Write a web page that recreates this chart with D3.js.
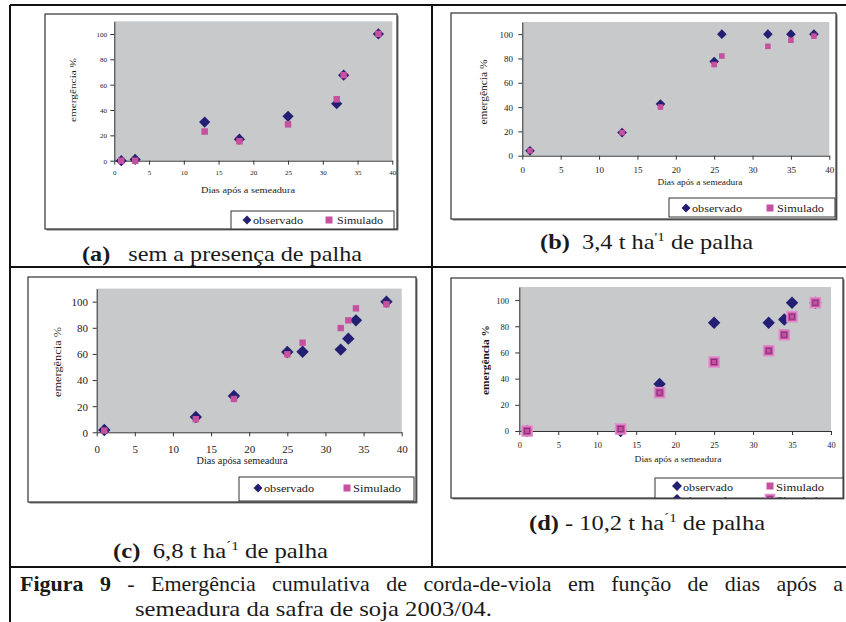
<!DOCTYPE html>
<html><head><meta charset="utf-8">
<script src="https://cdn.jsdelivr.net/npm/d3@7/dist/d3.min.js"></script>
<style>
html,body{margin:0;padding:0;background:#fff;}
svg{display:block;font-family:"Liberation Serif","Times New Roman",Times,serif;}
</style></head>
<body>
<script>
// ---------- DATA ----------
const xTicks = [0,5,10,15,20,25,30,35,40];
const yTicks = [0,20,40,60,80,100];
const seriesNames = ["observado","Simulado"];

const panelA_days = [1,3,13,18,25,32,33,38];
const panelA_observado = [0,1,30.5,17,35,45,67.5,100];
const panelA_simulado = [0,0,23,15.3,28.7,48.5,67.5,100];

const panelB_days = [1,13,18,25,26,32,35,38];
const panelB_observado = [4,19,42.5,77.5,100,100,100,100];
const panelB_simulado = [4,19,40,75,82,90,95,98.4];

const panelC_days = [1,13,18,25,27,32,33,34,38];
const panelC_observado = [1.8,11.7,27.8,61.5,61.7,63.3,71.7,85.7,100];
const panelC_simulado = [1.3,10,25.5,59.7,68.6,79.8,85.7,94.9,98];

const panelD_days = [1,13,18,25,32,34,35,38];
const panelD_observado = [0,0,35.9,82.7,82.7,85.2,98,98];
const panelD_simulado = [0,1.5,29.3,52.7,61.3,73.5,87.3,98];

// ---------- STYLE ----------
const NAVY = "#231f73", PINK = "#c6529f", PLOTBG = "#c8c9cb", INK = "#1a1a1a";
const FONT = "Liberation Serif, Times New Roman, serif";

const W = 846, H = 622;
const svg = d3.select("body").append("svg").attr("width", W).attr("height", H);

// outer table lines
const lines = [
  [10,5,846,5],[10,5,10,622],[432,5,432,567],[10,267,846,267],[10,567,846,567]
];
svg.selectAll("line.frame").data(lines).join("line")
  .attr("x1",d=>d[0]).attr("y1",d=>d[1]).attr("x2",d=>d[2]).attr("y2",d=>d[3])
  .attr("stroke","#111").attr("stroke-width",2);

const panels = [
  {days:panelA_days, obs:panelA_observado, sim:panelA_simulado,
   frame:[45,14,397,229], px:[114.3,392.3], py:[160.7,21.3],
   tickFont:7, tickDy:175, yTickX:107,
   ylab:{x:73,y:90,len:64,size:8.5,bold:false},
   xlab:{x:248,y:193,len:94,size:8.5, text:"Dias após a semeadura"},
   leg:{box:[231,211,394,229], cy:220, base:223.5, dx:247, tx:253, tlen1:50, sx:329, sx2:337, tlen2:46, size:10},
   dia:5.6, sq:6.5, simStyle:"plain"},
  {days:panelB_days, obs:panelB_observado, sim:panelB_simulado,
   frame:[451,13,836,219], px:[522.3,829.3], py:[155.7,22],
   tickFont:9, tickDy:173, yTickX:513,
   ylab:{x:483,y:92,len:65,size:10,bold:false},
   xlab:{x:700,y:185,len:85,size:7.5, text:"Dias após a semeadura"},
   leg:{box:[669,198,835,217], cy:208, base:211.5, dx:686, tx:692, tlen1:50, sx:770, sx2:777, tlen2:47, size:9.5},
   dia:4.8, sq:5.6, simStyle:"plain"},
  {days:panelC_days, obs:panelC_observado, sim:panelC_simulado,
   frame:[28,277,416,502], px:[96.7,401.7], py:[432.3,288.6],
   tickFont:11, tickDy:453, yTickX:88,
   ylab:{x:57,y:362,len:70,size:11,bold:false},
   xlab:{x:242,y:464,len:91,size:9.5, text:"Dias apósa semeadura"},
   leg:{box:[239,477,414,501], cy:488, base:492, dx:258, tx:264, tlen1:50, sx:347, sx2:353, tlen2:48, size:11},
   dia:6.2, sq:6.4, simStyle:"plain"},
  {days:panelD_days, obs:panelD_observado, sim:panelD_simulado,
   frame:[451,278,843,498], px:[519.3,831], py:[431,287],
   tickFont:8.5, tickDy:448, yTickX:509,
   ylab:{x:485,y:360,len:70,size:10,bold:true},
   xlab:{x:678,y:462,len:87,size:8.5, text:"Dias após a semeadura"},
   leg:{box:[655,478,843,498], cy:486, base:490.5, dx:677, tx:683, tlen1:50, sx:770, sx2:776, tlen2:48, size:11},
   dia:6.2, sq:10, simStyle:"boxed"}
];

function diamondPath(r){ return `M0,${-r}L${r},0L0,${r}L${-r},0Z`; }

function drawSim(g, x, y, s, style){
  if(style==="boxed"){
    g.append("rect").attr("x",x-s/2).attr("y",y-s/2).attr("width",s).attr("height",s)
      .attr("fill",PINK).attr("stroke","#e08fcc").attr("stroke-width",1.6);
    g.append("rect").attr("x",x-s/4).attr("y",y-s/4).attr("width",s/2).attr("height",s/2)
      .attr("fill","none").attr("stroke","#7c2f7c").attr("stroke-width",0.9);
  } else {
    g.append("rect").attr("x",x-s/2).attr("y",y-s/2).attr("width",s).attr("height",s).attr("fill",PINK);
  }
}

panels.forEach((p,i)=>{
  const g = svg.append("g");
  const [fx0,fy0,fx1,fy1] = p.frame;
  g.append("rect").attr("x",fx0+1.5).attr("y",fy0+1.5).attr("width",fx1-fx0).attr("height",fy1-fy0).attr("fill","#777");
  g.append("rect").attr("x",fx0).attr("y",fy0).attr("width",fx1-fx0).attr("height",fy1-fy0)
    .attr("fill","#fff").attr("stroke","#333").attr("stroke-width",1.2);

  const x = d3.scaleLinear().domain([0,40]).range(p.px);
  const y = d3.scaleLinear().domain([0,110]).range(p.py);

  g.append("rect").attr("x",x(0)).attr("y",y(110)).attr("width",x(40)-x(0)).attr("height",y(0)-y(110)).attr("fill",PLOTBG);

  const xa = g.append("g").attr("transform",`translate(0,${y(0)})`)
    .call(d3.axisBottom(x).tickValues(xTicks).tickSize(4).tickSizeOuter(0).tickFormat(d3.format("d")));
  const ya = g.append("g").attr("transform",`translate(${x(0)},0)`)
    .call(d3.axisLeft(y).tickValues(yTicks).tickSize(4).tickSizeOuter(0).tickFormat(d3.format("d")));
  [xa,ya].forEach(a=>{
    a.selectAll("path,line").attr("stroke","#333").attr("stroke-width",1);
    a.selectAll("text").attr("fill",INK).attr("font-size",p.tickFont).attr("font-family",FONT);
  });
  xa.selectAll("text").attr("y", p.tickDy - y(0)).attr("dy","0");
  ya.selectAll("text").attr("x", p.yTickX - x(0)).attr("dy","0.35em");

  g.append("text").attr("transform",`translate(${p.ylab.x},${p.ylab.y}) rotate(-90)`)
    .attr("text-anchor","middle").attr("dy","0.35em").attr("font-size",p.ylab.size)
    .attr("font-weight",p.ylab.bold?"bold":"normal").attr("fill",INK)
    .attr("textLength",p.ylab.len).attr("lengthAdjust","spacingAndGlyphs").text("emergência %");
  g.append("text").attr("x",p.xlab.x).attr("y",p.xlab.y).attr("text-anchor","middle")
    .attr("font-size",p.xlab.size).attr("fill",INK)
    .attr("textLength",p.xlab.len).attr("lengthAdjust","spacingAndGlyphs").text(p.xlab.text);

  const pts = p.days.map((d,j)=>({d, o:p.obs[j], s:p.sim[j]}));
  g.append("g").selectAll("path").data(pts).join("path")
    .attr("d",diamondPath(p.dia)).attr("fill",NAVY)
    .attr("transform",d=>`translate(${x(d.d)},${y(d.o)})`);
  const sg = g.append("g");
  pts.forEach(d=>drawSim(sg, x(d.d), y(d.s), p.sq, p.simStyle));

  const L = p.leg;
  const clipId = "clip"+i;
  g.append("clipPath").attr("id",clipId).append("rect")
    .attr("x",L.box[0]).attr("y",L.box[1]).attr("width",L.box[2]-L.box[0]).attr("height",L.box[3]-L.box[1]);
  g.append("rect").attr("x",L.box[0]).attr("y",L.box[1]).attr("width",L.box[2]-L.box[0]).attr("height",L.box[3]-L.box[1])
    .attr("fill","#fff").attr("stroke","#333").attr("stroke-width",1);
  const lg = g.append("g").attr("clip-path",`url(#${clipId})`);
  const rows = p.simStyle==="boxed" ? [0,1] : [0];
  rows.forEach(r=>{
    const off = r*13;
    lg.append("path").attr("d",diamondPath(p.simStyle==="boxed"?5:4.5)).attr("fill",NAVY)
      .attr("transform",`translate(${L.dx},${L.cy+off})`);
    lg.append("text").attr("x",L.tx).attr("y",L.base+off).attr("font-size",L.size).attr("fill",INK)
      .attr("textLength",L.tlen1).attr("lengthAdjust","spacingAndGlyphs").text(seriesNames[0]);
    if(r===0){
      lg.append("rect").attr("x",L.sx-3.5).attr("y",L.cy+off-3.5).attr("width",7).attr("height",7).attr("fill",PINK);
    } else {
      drawSim(lg, L.sx, L.cy+off, 9, "boxed");
    }
    lg.append("text").attr("x",L.sx2).attr("y",L.base+off).attr("font-size",L.size).attr("fill",INK)
      .attr("textLength",L.tlen2).attr("lengthAdjust","spacingAndGlyphs").text(seriesNames[1]);
  });
});

// panel captions
function caption(xc, yb, len, label, parts){
  const t = svg.append("text").attr("x",xc).attr("y",yb).attr("font-size",21).attr("fill",INK)
    .attr("textLength",len).attr("lengthAdjust","spacingAndGlyphs");
  t.append("tspan").attr("font-weight","bold").text(label);
  parts.forEach(pt=>{
    if(pt.sup){ t.append("tspan").attr("font-size",13).attr("dy",-8).text(pt.sup);
                t.append("tspan").attr("dy",8).text(pt.after); }
    else t.append("tspan").text(pt.text);
  });
}
caption(82, 261, 280, "(a)", [{text:"\u00a0\u00a0 sem a presença de palha"}]);
caption(540, 249, 213, "(b)", [{text:"\u00a0 3,4 t ha"},{sup:"'1", after:" de palha"}]);
caption(113, 558, 215, "(c)", [{text:"\u00a0 6,8 t ha"},{sup:"´1", after:" de palha"}]);
caption(529, 530, 236, "(d)", [{text:" - 10,2 t ha"},{sup:"´1", after:" de palha"}]);

// figure caption (justified first line via word spacing)
const f1 = svg.append("text").attr("x",20).attr("y",591).attr("font-size",22).attr("fill",INK);
f1.append("tspan").attr("font-weight","bold").text("Figura 9");
f1.append("tspan").text(" - Emergência cumulativa de corda-de-viola em função de dias após a");
const natural = f1.node().getComputedTextLength();
const target = 823;
const nSpaces = 12;
if (natural < target) f1.attr("word-spacing", (target-natural)/nSpaces);
else f1.attr("textLength",target).attr("lengthAdjust","spacingAndGlyphs");

const f2 = svg.append("text").attr("x",135).attr("y",616).attr("font-size",22).attr("fill",INK)
  .text("semeadura da safra de soja 2003/04.");
const n2 = f2.node().getComputedTextLength();
if (Math.abs(n2-357) > 6) f2.attr("textLength",357).attr("lengthAdjust","spacingAndGlyphs");
</script>
</body></html>
